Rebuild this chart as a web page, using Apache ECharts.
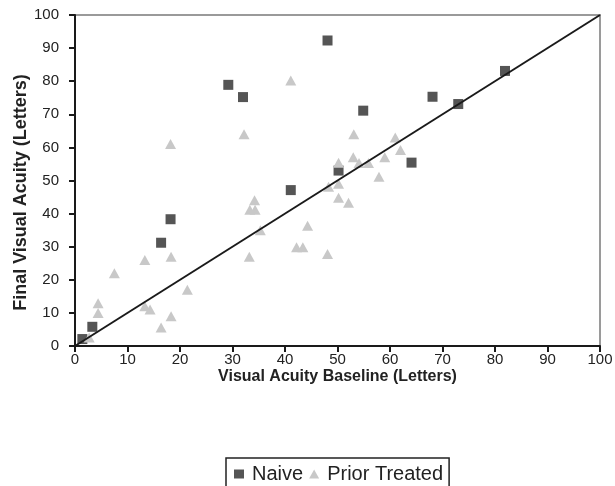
<!DOCTYPE html>
<html>
<head>
<meta charset="utf-8">
<script src="https://cdn.jsdelivr.net/npm/echarts@6/dist/echarts.min.js"></script>
<style>
html,body{margin:0;padding:0;background:#fff;}
#chart{width:615px;height:486px;}
</style>
</head>
<body>
<div id="chart"></div>
<script>
const naiveX = [1.4, 3.3, 16.4, 18.2, 29.2, 32.0, 41.1, 48.1, 50.2, 54.9, 64.1, 68.1, 73.0, 81.9];
const naiveY = [2.1, 5.8, 31.2, 38.3, 78.9, 75.2, 47.1, 92.3, 53.0, 71.1, 55.4, 75.3, 73.1, 83.1];
const priorX = [2.7, 4.4, 4.4, 7.5, 13.3, 13.3, 14.3, 16.4, 18.3, 18.3, 18.2, 21.4, 32.2, 33.2, 33.3, 34.3, 34.2, 35.3, 41.1, 42.2, 43.4, 44.3, 48.1, 48.3, 50.2, 50.2, 50.2, 52.1, 53.0, 53.1, 54.1, 55.9, 57.9, 59.0, 61.0, 62.0];
const priorY = [2.6, 10.0, 12.9, 22.0, 26.0, 12.0, 11.0, 5.6, 9.0, 27.0, 61.0, 17.0, 64.0, 27.0, 41.2, 41.2, 44.0, 35.0, 80.2, 29.8, 29.8, 36.3, 27.8, 48.1, 44.8, 49.0, 55.4, 43.3, 57.0, 64.0, 55.3, 55.3, 51.1, 57.0, 63.0, 59.2];
const lineX = [0, 100];
const lineY = [0, 100];
const axisTicks = [0, 10, 20, 30, 40, 50, 60, 70, 80, 90, 100];
const seriesNames = ['Naive', 'Prior Treated'];

const zip = (xs, ys) => xs.map((x, i) => [x, ys[i]]);
const font = 'Liberation Sans, Arial, sans-serif';

const chart = echarts.init(document.getElementById('chart'), null, {renderer: 'canvas'});
const axisCommon = {
  type: 'value', min: axisTicks[0], max: axisTicks[axisTicks.length - 1], interval: 10,
  axisLine: {show: true, lineStyle: {color: '#1a1a1a', width: 2}},
  axisTick: {show: true, inside: false, length: 6, lineStyle: {color: '#1a1a1a', width: 2}},
  splitLine: {show: false},
  axisLabel: {color: '#222', fontSize: 15, fontFamily: font},
  nameTextStyle: {color: '#222', fontSize: 16, fontWeight: 'bold', fontFamily: font},
  nameLocation: 'middle',
  nameMoveOverlap: false
};
chart.setOption({
  animation: false,
  backgroundColor: '#fff',
  grid: {left: 75, right: 15, top: 15, bottom: 140, containLabel: false, outerBoundsMode: 'none',
    show: true, borderColor: '#9a9a9a', borderWidth: 2, backgroundColor: 'transparent'},
  xAxis: Object.assign({}, axisCommon, {name: 'Visual Acuity Baseline (Letters)', nameGap: 23,
    axisLabel: Object.assign({}, axisCommon.axisLabel, {margin: 6})}),
  yAxis: Object.assign({}, axisCommon, {name: 'Final Visual Acuity (Letters)', nameGap: 45,
    nameTextStyle: Object.assign({}, axisCommon.nameTextStyle, {fontSize: 18, padding: [0, 24, 0, 0]}),
    axisLabel: Object.assign({}, axisCommon.axisLabel, {margin: 16})}),
  legend: {
    data: [
      {name: seriesNames[0], icon: 'rect'},
      {name: seriesNames[1], icon: 'triangle'}
    ],
    top: 458, left: 226,
    itemWidth: 10, itemHeight: 9, itemGap: 6,
    padding: [6, 6, 6, 8],
    borderColor: '#222', borderWidth: 1.5, borderRadius: 0,
    textStyle: {color: '#222', fontSize: 20, fontFamily: font, padding: [0, 0, 0, 3]}
  },
  series: [
    {name: seriesNames[0], type: 'scatter', symbol: 'rect', symbolSize: 10,
     itemStyle: {color: '#555555', opacity: 1}, data: zip(naiveX, naiveY), z: 3},
    {name: seriesNames[1], type: 'scatter', symbol: 'triangle', symbolSize: [11, 10],
     itemStyle: {color: '#c8c8c8', opacity: 1}, data: zip(priorX, priorY), z: 4},
    {name: 'identity', type: 'line', symbol: 'none', silent: true,
     lineStyle: {color: '#1a1a1a', width: 2}, data: zip(lineX, lineY), z: 5}
  ]
});
</script>
</body>
</html>
